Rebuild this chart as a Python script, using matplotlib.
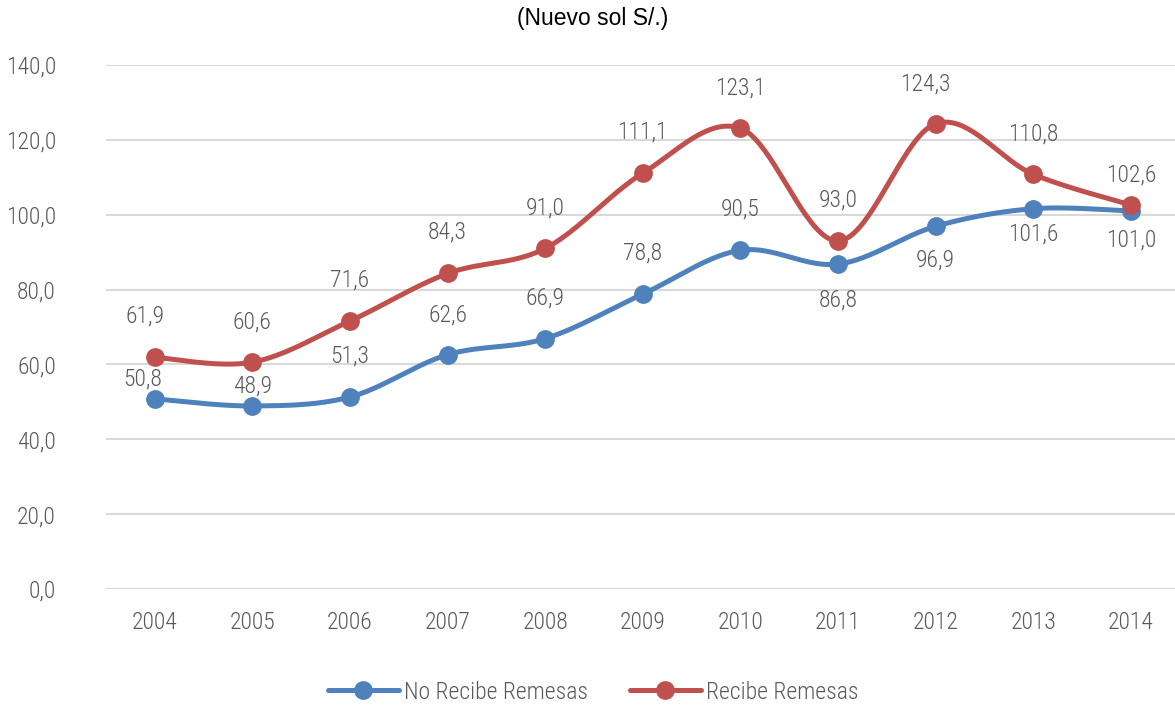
import numpy as np
import matplotlib
matplotlib.use("Agg")
import matplotlib.pyplot as plt
from matplotlib import font_manager
from matplotlib.lines import Line2D

years = ["2004", "2005", "2006", "2007", "2008", "2009", "2010", "2011", "2012", "2013", "2014"]
no_recibe = [50.8, 48.9, 51.3, 62.6, 66.9, 78.8, 90.5, 86.8, 96.9, 101.6, 101.0]
recibe = [61.9, 60.6, 71.6, 84.3, 91.0, 111.1, 123.1, 93.0, 124.3, 110.8, 102.6]
y_ticks = [0, 20, 40, 60, 80, 100, 120, 140]

# label offsets in pixels (dx, dy) relative to each point
no_offsets = [(-12, 20), (0, 20), (0, 41), (0, 40), (0, 41), (0, 41), (0, 41),
              (0, -36), (0, -34), (0, -25), (0, -29)]
re_offsets = [(-10, 41), (0, 40), (0, 41), (0, 41), (0, 40), (0, 41), (0, 40),
              (0, 41), (-10, 40), (0, 40), (0, 30)]

BLUE = "#4F81BD"
RED = "#C0504D"
GREY_TXT = "#595959"

available = {f.name for f in font_manager.fontManager.ttflist}
narrow = next((f for f in ["Roboto Condensed", "Liberation Sans Narrow", "Open Sans Condensed",
                           "DejaVu Sans Condensed"] if f in available), "Liberation Sans")
plt.rcParams["font.family"] = [narrow, "DejaVu Sans"]
plt.rcParams["font.weight"] = "light"


def smooth(xs, ys, n=40):
    """Cubic Bezier smoothing through all points (Catmull-Rom style control points)."""
    xs = np.asarray(xs, float)
    ys = np.asarray(ys, float)
    P = np.column_stack([xs, ys])
    out = []
    for i in range(len(P) - 1):
        p0 = P[i - 1] if i > 0 else P[i]
        p1 = P[i]
        p2 = P[i + 1]
        p3 = P[i + 2] if i + 2 < len(P) else P[i + 1]
        c1 = p1 + (p2 - p0) / 6.0
        c2 = p2 - (p3 - p1) / 6.0
        t = np.linspace(0, 1, n, endpoint=(i == len(P) - 2))[:, None]
        seg = ((1 - t) ** 3) * p1 + 3 * ((1 - t) ** 2) * t * c1 + 3 * (1 - t) * t ** 2 * c2 + t ** 3 * p2
        out.append(seg)
    s = np.vstack(out)
    return s[:, 0], s[:, 1]


fig = plt.figure(figsize=(11.75, 7.06), dpi=100)
ax = fig.add_axes([106 / 1175, 117 / 706, 1073.6 / 1175, 524 / 706])

FS = 17
x = np.arange(len(years))
for vals, color, offs in [(no_recibe, BLUE, no_offsets), (recibe, RED, re_offsets)]:
    sx, sy = smooth(x, vals)
    ax.plot(sx, sy, color=color, lw=3.6, solid_capstyle="round", zorder=3)
    ax.plot(x, vals, "o", color=color, ms=12.5, zorder=4)
    for xi, v, (dx, dy) in zip(x, vals, offs):
        ax.annotate(f"{v:.1f}".replace(".", ","), (xi, v), xytext=(dx, dy),
                    textcoords="offset pixels", ha="center", va="center",
                    fontsize=FS, color=GREY_TXT, zorder=5)

ax.set_xlim(-0.5, len(years) - 0.5)
ax.set_ylim(0, 140)
ax.set_yticks(y_ticks)
ax.set_yticklabels([f"{v:.1f}".replace(".", ",") for v in y_ticks])
ax.set_xticks(x)
ax.set_xticklabels(years)
ax.tick_params(axis="both", length=0, labelsize=FS, labelcolor=GREY_TXT)
ax.tick_params(axis="y", pad=36)
ax.tick_params(axis="x", pad=16)
ax.grid(axis="y", color="#D9D9D9", lw=1.5)
ax.set_axisbelow(True)
for s in ax.spines.values():
    s.set_visible(False)

fig.text(593 / 1175, 1 - 19 / 706, "(Nuevo sol S/.)", ha="center", va="center",
         fontsize=16.5, family=["Liberation Sans", "DejaVu Sans"], weight="normal",
         color="#000000")

handles = [Line2D([], [], color=BLUE, lw=3.6, marker="o", ms=12.5, solid_capstyle="round"),
           Line2D([], [], color=RED, lw=3.6, marker="o", ms=12.5, solid_capstyle="round")]
fig.legend(handles, ["No Recibe Remesas", "Recibe Remesas"], loc="center",
           bbox_to_anchor=(593 / 1175, 1 - 692 / 706), ncol=2, frameon=False,
           fontsize=FS, labelcolor=GREY_TXT, handlelength=3.0, handletextpad=0.2,
           columnspacing=1.8)

fig.savefig("out.png", dpi=100)
